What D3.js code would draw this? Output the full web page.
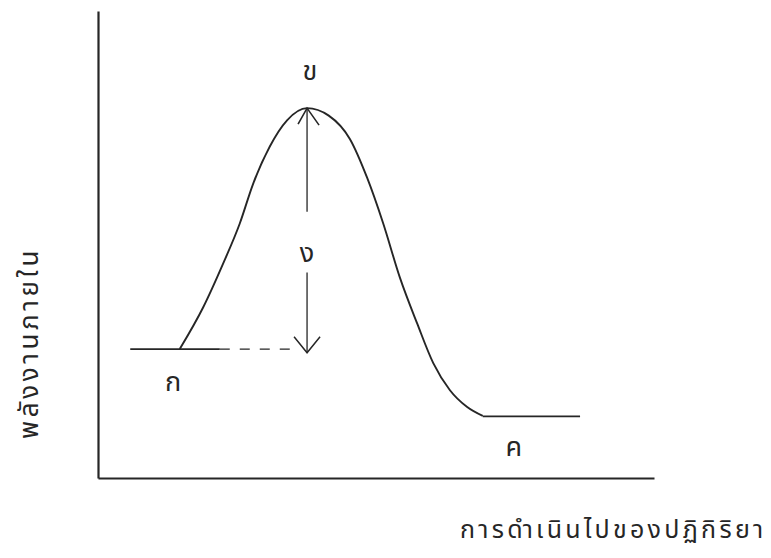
<!DOCTYPE html>
<html>
<head>
<meta charset="utf-8">
<script src="https://cdn.jsdelivr.net/npm/d3@7"></script>
<style>
  html, body { margin: 0; padding: 0; background: #fff; }
  svg { display: block; }
  text { font-family: "Noto Sans Thai", sans-serif; fill: #262626; }
</style>
</head>
<body>
<script>
// Reaction progress (x) and internal energy (y), arbitrary units 0–100
const curveX = [14.7, 18.9, 22.5, 25.5, 27.9, 30.9, 34.0, 37.6, 41.5, 45.3, 48.4, 51.3, 54.3, 57.4, 60.3, 63.3, 66.4, 69.2];
const curveY = [27.6, 36.5, 45.9, 54.5, 63.0, 71.0, 76.6, 79.2, 77.6, 72.6, 64.3, 54.5, 42.9, 33.1, 24.6, 18.8, 15.2, 13.3];

// Reactant level (solid part, dashed extension) and product level
const reactantLevel = 27.6;
const reactantSolid = [5.8, 21.9];
const reactantDashed = [21.9, 35.0];
const productLevel = 13.2;
const productSpan = [69.2, 86.7];

// Activation energy arrow, drawn at the peak position
const peakX = 37.6, peakY = 79.2, arrowBottom = 26.8;
const arrowGap = [57.0, 44.0];

// Point labels
const pointLabels = ["ก", "ข", "ค", "ง"];
const labelX = [13.5, 38.1, 74.8, 37.6];
const labelY = [20.5, 87.0, 6.5, 48.0];

const axisTitleX = "การดำเนินไปของปฏิกิริยา";
const axisTitleY = "พลังงานภายใน";

const W = 771, H = 558;
const svg = d3.select("body").append("svg").attr("width", W).attr("height", H);

const x = d3.scaleLinear().domain([0, 100]).range([98, 654]);
const y = d3.scaleLinear().domain([0, 100]).range([478, 11]);

const ink = "#262626";

// Axes: bare lines, no ticks
svg.append("g").attr("transform", `translate(${x(0)},0)`)
  .call(d3.axisLeft(y).ticks(0).tickSizeOuter(0))
  .call(g => g.select(".domain").attr("stroke", ink).attr("stroke-width", 2.2));
svg.append("g").attr("transform", `translate(0,${y(0)})`)
  .call(d3.axisBottom(x).ticks(0).tickSizeOuter(0))
  .call(g => g.select(".domain").attr("stroke", ink).attr("stroke-width", 2.2));

// Energy curve
const line = d3.line().x(d => x(d[0])).y(d => y(d[1])).curve(d3.curveMonotoneX);
svg.append("path")
  .datum(d3.zip(curveX, curveY))
  .attr("d", line)
  .attr("fill", "none").attr("stroke", ink).attr("stroke-width", 1.9);

// Reactant and product levels
const seg = d3.line().x(d => x(d[0])).y(d => y(d[1]));
svg.append("path").attr("d", seg(reactantSolid.map(v => [v, reactantLevel])))
  .attr("stroke", ink).attr("stroke-width", 1.6).attr("fill", "none");
svg.append("path").attr("d", seg(reactantDashed.map(v => [v, reactantLevel])))
  .attr("stroke", ink).attr("stroke-width", 1.4).attr("fill", "none")
  .attr("stroke-dasharray", "10,10");
svg.append("path").attr("d", seg(productSpan.map(v => [v, productLevel])))
  .attr("stroke", ink).attr("stroke-width", 1.6).attr("fill", "none");

// Activation energy arrow with a gap for its label
const ax = x(peakX);
svg.append("line").attr("x1", ax).attr("x2", ax).attr("y1", y(peakY)).attr("y2", y(arrowGap[0]))
  .attr("stroke", ink).attr("stroke-width", 1.3);
svg.append("line").attr("x1", ax).attr("x2", ax).attr("y1", y(arrowGap[1])).attr("y2", y(arrowBottom))
  .attr("stroke", ink).attr("stroke-width", 1.3);
const headTop = y(peakY), headBot = y(arrowBottom);
svg.append("path").attr("d", `M${ax - 9},${headTop + 16} L${ax},${headTop} L${ax + 12},${headTop + 17}`)
  .attr("fill", "none").attr("stroke", ink).attr("stroke-width", 1.6);
svg.append("path").attr("d", `M${ax - 13},${headBot - 16} L${ax},${headBot} L${ax + 13},${headBot - 16}`)
  .attr("fill", "none").attr("stroke", ink).attr("stroke-width", 1.5);

// Point labels
svg.selectAll("text.pt").data(pointLabels).join("text")
  .attr("class", "pt")
  .attr("x", (d, i) => x(labelX[i]))
  .attr("y", (d, i) => y(labelY[i]))
  .attr("text-anchor", "middle")
  .attr("dominant-baseline", "central")
  .attr("font-size", 27)
  .text(d => d);

// Axis titles
svg.append("text").attr("x", 460).attr("y", 538)
  .attr("font-size", 25).attr("letter-spacing", 3.3)
  .text(axisTitleX);
svg.append("text")
  .attr("transform", `translate(38,343) rotate(-90)`)
  .attr("text-anchor", "middle").attr("font-size", 26).attr("letter-spacing", 3.6)
  .text(axisTitleY);
</script>
</body>
</html>
